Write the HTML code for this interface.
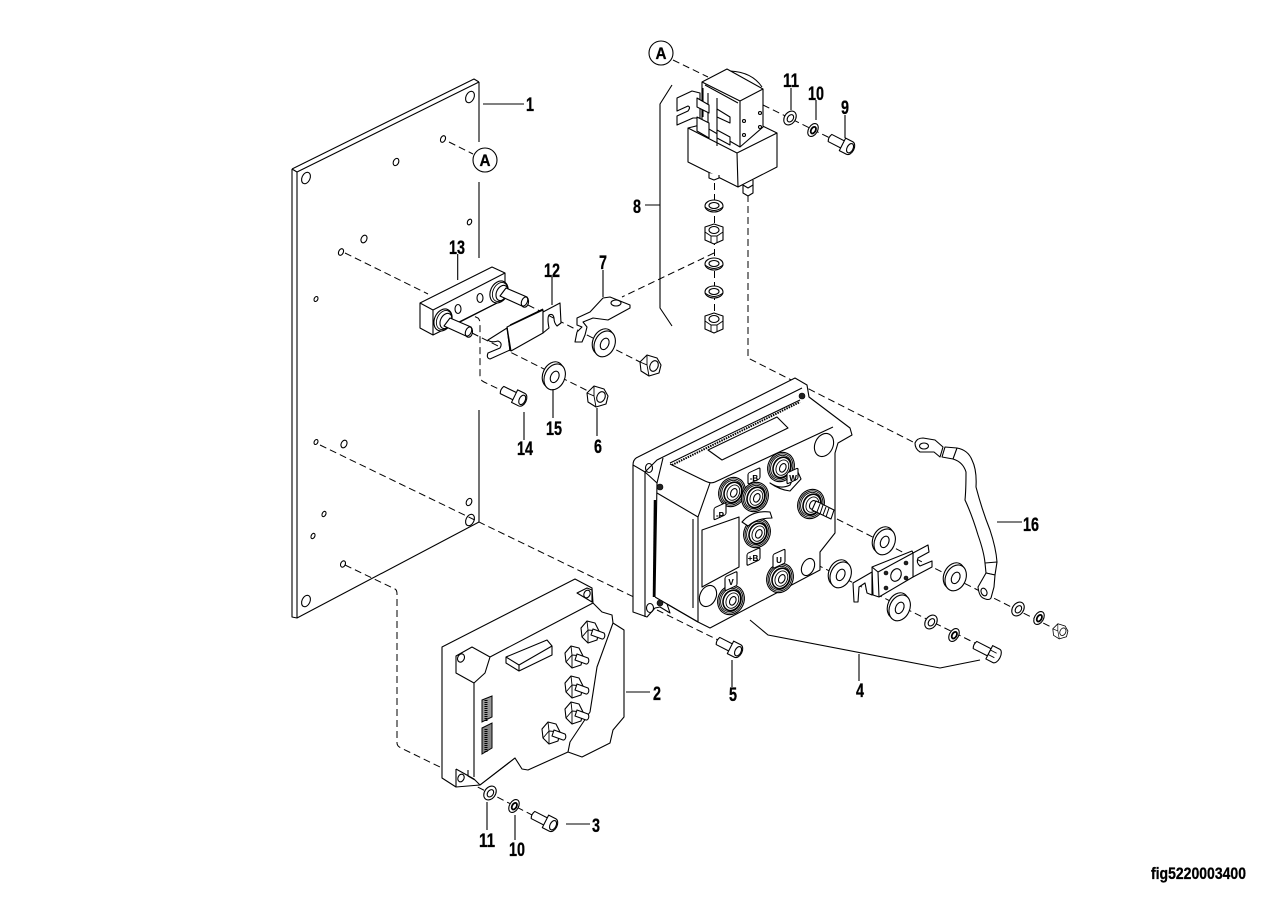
<!DOCTYPE html>
<html><head><meta charset="utf-8"><style>
html,body{margin:0;padding:0;background:#fff}
svg{display:block}
.l{fill:#fff;stroke:#000;stroke-width:1.1;stroke-linejoin:round}
.n{fill:none;stroke:#000;stroke-width:1.1;stroke-linejoin:round}
.t{fill:none;stroke:#000;stroke-width:.9}
.d{fill:none;stroke:#000;stroke-width:1;stroke-dasharray:7 4}
.f{fill:#222;stroke:#000;stroke-width:.6}
text{font-family:"Liberation Sans",sans-serif;font-weight:bold;font-size:19px;fill:#000;stroke:#000;stroke-width:.3;text-anchor:middle}
</style></head><body>
<svg width="1273" height="897" viewBox="0 0 1273 897" xmlns="http://www.w3.org/2000/svg">
<defs>
<g id="bw"><ellipse class="l" cx="-1.5" cy="-.7" rx="10" ry="13.5" transform="rotate(25)"/><ellipse class="l" cx="1" cy=".5" rx="10" ry="13.5" transform="rotate(25)"/><ellipse class="n" cx="1" cy=".5" rx="4" ry="6" transform="rotate(25)"/></g>
<g id="sw"><ellipse class="l" rx="5.5" ry="7.5" transform="rotate(35)"/><ellipse class="n" cx=".5" rx="2.8" ry="4" transform="rotate(35)"/></g>
<g id="lw"><ellipse class="l" rx="4.5" ry="7" transform="rotate(30)" stroke-width="1.4"/><ellipse class="n" cx=".4" rx="2.2" ry="3.6" transform="rotate(30)" style="stroke-width:1.8"/></g>
<g id="nut"><polygon class="l" points="-10,-3 -3,-10 7,-7 11,0 9,8 -1,11 -9,6"/><path class="t" d="M-10,-3 L-3,0 L-1,11 M-3,0 L-3,-10 "/><ellipse class="l" cx="4" cy="1" rx="4" ry="5.5" transform="rotate(25 4 1)"/></g>
<g id="screw"><path class="l" d="M0,-4 L16,-4 L16,4 L0,4 Q-2,0 0,-4Z"/><path class="l" d="M14,-7 L22,-7 A4.5,7 0 0 1 22,7 L14,7 Z"/><ellipse class="n" cx="22.500" cy="0" rx="3" ry="5"/></g>
<g id="hv"><ellipse class="l" rx="13" ry="15" transform="rotate(25)"/><ellipse class="t" rx="11.500" ry="13.500" transform="rotate(25)"/><ellipse class="t" rx="10" ry="12" transform="rotate(25)"/><ellipse class="n" cx="1" rx="8.500" ry="10.500" transform="rotate(25)" style="stroke-width:1.6"/><ellipse class="t" cx="1.500" rx="6" ry="8" transform="rotate(25)"/><ellipse class="n" cx="2" rx="3" ry="4.500" transform="rotate(25)"/></g>
<g id="hxs"><polygon class="l" points="-9,-4 -3,-11 5,-9 9,-1 7,8 -2,11 -8,5"/><path class="t" d="M-3,-11 L-2,-2 L-8,5 M-2,-2 L9,-1 M-2,-2 L-2,11"/><path class="l" d="M3,-3 L14,1 A2.500,3.500 0 0 1 12,7 L1,3 Z"/></g>
<g id="nv"><polygon class="l" points="-9,-7 0,-10 9,-7 9,6 0,10 -9,6"/><path class="t" d="M-9,-2 L-3,2 L3,2 L9,-2 M-3,2 L-3,9 M3,2 L3,9"/><ellipse class="l" cx="0" cy="-4" rx="5" ry="3.500"/></g>
<g id="wv"><ellipse class="l" rx="9" ry="6"/><ellipse class="n" cy="-.5" rx="5" ry="3"/><path class="t" d="M-9,1 Q0,8 9,1"/></g>
</defs>

<!-- dashed lines -->
<path class="d" d="M449,142L473,154"/>
<path class="d" d="M345,253L428,294"/>
<path class="d" d="M320,445L642,601"/>
<path class="d" d="M657,610L718,640"/>
<path class="d" d="M345,565L395,589Q397,590 397,594L397,743Q397,746 401,748L442,768"/>
<path class="d" d="M468,782L534,816"/>
<path class="d" d="M465,312L478,318Q480,320 480,323L480,376Q480,380 484,382L503,391"/>
<path class="d" d="M472,333L590,392"/>
<path class="d" d="M528,305L640,362"/>
<path class="d" d="M714,253L622,297"/>
<path class="d" d="M673,60L708,77"/>
<path class="d" d="M763,105L830,138"/>
<path class="d" d="M714.500,172L714.500,325"/>
<path class="d" d="M748,195L748,358L915,443"/>
<path class="d" d="M837,519L1053,628"/>
<path class="d" d="M767,540L977,644"/>

<!-- plate -->
<path class="n" d="M292,169L474,79L479,82M297,172L479,82M292,169L297,172M292,169V617L297,618M297,172V618L479,522"/>
<path class="n" d="M479,82V142M479,182V258M479,410V522"/>
<g class="n">
<ellipse cx="306" cy="178" rx="4" ry="6" transform="rotate(25 306 178)"/><ellipse cx="470" cy="97" rx="4" ry="6" transform="rotate(25 470 97)"/>
<ellipse cx="306" cy="601" rx="4" ry="6" transform="rotate(25 306 601)"/><ellipse cx="470" cy="520" rx="4" ry="6" transform="rotate(25 470 520)"/>
<ellipse cx="443" cy="139" rx="2.300" ry="3.500" transform="rotate(25 443 139)"/><ellipse cx="396" cy="162" rx="2.600" ry="3.800" transform="rotate(25 396 162)"/>
<ellipse cx="469.500" cy="222" rx="2" ry="3" transform="rotate(25 469.500 222)"/><ellipse cx="364" cy="239" rx="2.800" ry="4" transform="rotate(25 364 239)"/>
<ellipse cx="341" cy="252" rx="2.300" ry="3.500" transform="rotate(25 341 252)"/><ellipse cx="316" cy="299" rx="1.800" ry="2.600" transform="rotate(25 316 299)"/>
<ellipse cx="316" cy="442" rx="1.800" ry="2.600" transform="rotate(25 316 442)"/><ellipse cx="344" cy="444" rx="2.800" ry="4" transform="rotate(25 344 444)"/>
<ellipse cx="469" cy="502" rx="2.600" ry="3.800" transform="rotate(25 469 502)"/><ellipse cx="324" cy="514" rx="1.800" ry="2.800" transform="rotate(25 324 514)"/>
<ellipse cx="313" cy="536" rx="1.800" ry="2.800" transform="rotate(25 313 536)"/><ellipse cx="343" cy="564" rx="2.300" ry="3.300" transform="rotate(25 343 564)"/>
</g>

<!-- A callouts -->
<circle class="l" cx="485" cy="160" r="12"/><text x="485" y="166" style="font-size:17px" textLength="11" lengthAdjust="spacingAndGlyphs">A</text>
<circle class="l" cx="661" cy="53" r="12"/><text x="661" y="59" style="font-size:17px" textLength="11" lengthAdjust="spacingAndGlyphs">A</text>

<!-- part 13 -->
<path class="l" d="M420,303L492,267L505,273V285L497,303L433,335L420,328Z"/>
<path class="n" d="M420,303L433,310V335M433,310L505,273"/>
<ellipse class="n" cx="458" cy="309" rx="3" ry="4.500"/><ellipse class="n" cx="480" cy="298" rx="3" ry="4.500"/>
<ellipse class="l" cx="443" cy="320" rx="8.500" ry="11.500" transform="rotate(25 443 320)"/><ellipse class="t" cx="444" cy="320" rx="7" ry="10" transform="rotate(25 444 320)"/><ellipse class="n" cx="446" cy="321" rx="5.500" ry="8" transform="rotate(25 446 321)"/>
<ellipse class="l" cx="499" cy="292" rx="8.500" ry="11.500" transform="rotate(25 499 292)"/><ellipse class="t" cx="500" cy="292" rx="7" ry="10" transform="rotate(25 500 292)"/><ellipse class="n" cx="502" cy="293" rx="5.500" ry="8" transform="rotate(25 502 293)"/>
<path class="l" d="M450,318L471,327A3.500,5 0 0 1 466,336L444,326Z"/><ellipse class="n" cx="468.500" cy="331.500" rx="2.800" ry="4.800" transform="rotate(25 468.500 331.500)"/>
<path class="l" d="M506,288L527,297A3.500,5 0 0 1 522,306L500,296Z"/><ellipse class="n" cx="524.500" cy="301.500" rx="2.800" ry="4.800" transform="rotate(25 524.500 301.500)"/>
<path class="n" d="M460,322L497,303"/>

<!-- part 12 fuse -->
<path class="l" d="M488,340L507,328L510,350L490,359Q486,358 488,353L500,348Q503,343 498,341Q491,343 488,340Z"/>
<path class="l" d="M507,327L543,310V333L511,351Z"/>
<path class="n" d="M507,327L510,351M510,325L543,309"/>
<path class="l" d="M543,312L560,303L561,323L557,326Q554,323 554,318Q553,313 549,315Q547,318 549,328L543,333Z"/>

<!-- part 7 -->
<path class="l" d="M577,318L590,312L603,298L610,297L630,305V308L608,320L593,318L583,322L587,327L585,335L582,342L575,342L577,332L582,327L577,325Z"/>
<ellipse class="n" cx="616" cy="303" rx="5" ry="3"/>

<use href="#bw" x="554" y="376"/>
<use href="#bw" x="604" y="343"/>
<use href="#nut" x="597" y="396"/>
<use href="#nut" x="650" y="365"/>
<use href="#screw" transform="translate(502,390) rotate(26)"/>

<!-- relay 8 -->
<path class="n" d="M730,71Q752,72 762,87"/>
<path class="l" d="M688,128L688,162L738,187L777,167V133L740,115Z"/>
<path class="n" d="M688,128L737,153L777,133M737,153L738,187"/>
<path class="l" d="M702,82L727,69L763,89V127L740,147L702,125Z"/>
<path class="n" d="M702,82L740,101L763,89M740,101V147M705,85L738,103"/>
<path class="l" d="M677,98L692,91L700,93V118L693,118L677,125V116L688,111Q691,107 688,106L677,111V103Z"/>
<path class="n" d="M703,88V117M708,93V137M717,98V146"/>
<path class="l" d="M697,98L709,105V113L697,107Z"/><path class="l" d="M697,117L709,123V138L697,131Z"/>
<path class="l" d="M717,109L730,117V123L717,117Z"/><path class="l" d="M717,130L730,137V145L717,138Z"/>
<circle cx="744" cy="121" r="1.500" class="n"/><circle cx="760" cy="113" r="1.500" class="n"/><circle cx="744" cy="135" r="1.500" class="n"/><circle cx="760" cy="127" r="1.500" class="n"/>
<path class="l" d="M709,173V178L714,180L719,178V175"/>
<path class="l" d="M743,185V193L748,196L753,193V180"/><path class="n" d="M743,185L748,188L753,185"/>
<use href="#wv" x="714" y="206"/><use href="#nv" x="714" y="234"/><use href="#wv" x="714" y="264"/><use href="#wv" x="714" y="292"/><use href="#nv" x="714" y="323"/>
<use href="#sw" x="790" y="118"/><use href="#lw" x="813" y="130"/>
<use href="#screw" transform="translate(830,138) rotate(27)"/>

<!-- controller 4 -->
<path class="l" d="M633,465Q633,459 638,457L795,378L807,385L809,397L850,428L852,435L838,443L835,453V533L820,552V570L710,628L698,622L667,604L670,613L660,607L655,608L647,617L633,612Z"/>
<path class="n" d="M645,472V617M633,465L645,472L657,460L802,388M670,463L800,400M645,472L657,483L655,597"/>
<path class="n" d="M663,458L657,483M670,464L705,481Q711,484 715,482L833,427"/>
<path d="M672,465L800,402" fill="none" stroke="#000" stroke-width="2" stroke-dasharray="1.500 1"/>
<path class="n" d="M710,483L698,517L657,493M698,517V622M693,519V608M655,597L698,622"/>
<path d="M655,500L654,597" stroke="#000" stroke-width="2.500" fill="none"/>
<path class="n" d="M708,450L777,417L788,428L722,460Z"/>
<path class="n" d="M702,530L739,517V567L702,587Z"/>
<ellipse class="n" cx="824" cy="445" rx="9" ry="12" transform="rotate(25 824 445)"/>
<ellipse class="n" cx="649" cy="468" rx="3.500" ry="4.500"/><ellipse class="n" cx="650" cy="608" rx="3.500" ry="4.500"/>
<circle class="f" cx="660" cy="487" r="3"/><circle class="f" cx="660" cy="603" r="3"/><circle class="f" cx="802" cy="396" r="3"/>
<ellipse class="n" cx="808" cy="567" rx="6" ry="9" transform="rotate(25 808 567)"/>
<ellipse class="n" cx="708" cy="596" rx="8" ry="11" transform="rotate(25 708 596)"/>
<use href="#hv" x="732" y="492"/><use href="#hv" x="781" y="467"/><use href="#hv" x="755" y="497"/><use href="#hv" x="757" y="533"/><use href="#hv" x="780" y="578"/><use href="#hv" x="731" y="600"/>
<use href="#hv" x="811" y="504"/>
<path class="l" d="M816,501L834,510L831,519L812,510Z"/>
<path d="M820,504L817,512M823,505L820,514M826,507L823,515M829,508L826,517" stroke="#000" fill="none"/>
<path class="l" d="M742,522Q752,510 770,512L772,518Q757,518 748,526Z"/>
<path class="l" d="M770,483Q780,490 790,485L797,470L801,479L790,491Q780,490 770,483Z"/>
<g class="l"><rect x="714" y="508" width="12" height="12" rx="1.500" transform="skewY(-25) translate(0,333)"/><rect x="748" y="472" width="12" height="11" rx="1.500" transform="skewY(-25) translate(0,350)"/><rect x="787" y="472" width="11" height="11" rx="1.500" transform="skewY(-25) translate(0,368)"/><rect x="747" y="552" width="13" height="12" rx="1.500" transform="skewY(-25) translate(0,350)"/><rect x="773" y="553" width="12" height="14" rx="1.500" transform="skewY(-25) translate(0,362)"/><rect x="725" y="575" width="12" height="14" rx="1.500" transform="skewY(-25) translate(0,340)"/></g>
<g><text x="720" y="518" style="font-size:8px;stroke-width:.1">-P</text><text x="754" y="481" style="font-size:8px;stroke-width:.1">-B</text><text x="793" y="481" style="font-size:8px;stroke-width:.1">W</text><text x="753" y="561" style="font-size:8px;stroke-width:.1">+B</text><text x="779" y="563" style="font-size:8px;stroke-width:.1">U</text><text x="731" y="585" style="font-size:8px;stroke-width:.1">V</text></g>

<use href="#bw" x="884" y="541"/><use href="#bw" x="840" y="574"/><use href="#bw" x="955" y="577"/><use href="#bw" x="899" y="607"/>
<!-- bracket -->
<path class="l" d="M913,553L928,545L929,552L918,558Q916,563 920,566L932,561L932,567L913,577Z"/>
<path class="l" d="M872,572L853,583L854,602L858,602L859,587L865,583L867,593L872,595Z"/>
<path class="l" d="M872,567L912,551L913,553V577L879,597L873,595Z"/>
<path class="n" d="M872,567L878,572L913,553M878,572L879,597"/>
<ellipse class="n" cx="896" cy="575" rx="5" ry="6.500" transform="rotate(25 896 575)"/>
<circle class="f" cx="886" cy="573" r="2"/><circle class="f" cx="906" cy="563" r="2"/><circle class="f" cx="886" cy="588" r="2"/><circle class="f" cx="906" cy="578" r="2"/>
<use href="#sw" x="931" y="622"/><use href="#lw" x="954" y="635"/>
<use href="#sw" x="1018" y="609"/><use href="#lw" x="1039" y="618"/>
<use href="#nut" transform="translate(1060,631) scale(.72)"/>
<g transform="translate(975,645) rotate(27)"><path class="l" d="M0,-4L16,-4L16,4L0,4Q-2,0 0,-4Z"/><path class="l" d="M16,-7.500L24,-7.500A4,7.500 0 0 1 24,7.500L16,7.500Z"/><path class="t" d="M16,-2.500L23,-2.500M16,2.500L23,2.500"/></g>

<!-- cable 16 -->
<path class="n" d="M957,448Q968,450 972,460Q977,470 976,487Q982,510 990,530Q996,548 997,562"/>
<path class="n" d="M953,459Q963,462 966,472Q966,490 965,500Q972,515 978,535Q984,552 985,563"/>
<path class="l" d="M915,443Q917,438 923,438L935,440L943,447L940,457L934,452L920,452Q915,449 915,443Z"/>
<ellipse class="n" cx="924" cy="446" rx="4.500" ry="3"/>
<path class="l" d="M942,457L945,447L957,448L953,459Z"/>
<path class="l" d="M985,563L997,562L995,575L986,573Z"/>
<path class="l" d="M986,573L978,587Q979,596 983,598Q989,601 991,598L994,587L995,575Z"/>
<ellipse class="n" cx="984" cy="592" rx="2.800" ry="4" transform="rotate(-25 984 592)"/>

<!-- controller 2 -->
<path class="l" d="M442,647L575,579L592,588L593,603L602,612L612,615L613,623L624,630V717L613,730L610,743L582,757L568,752L528,770L522,769L515,758L480,785L456,787L442,778Z"/>
<path class="n" d="M613,623L597,667L593,693L590,712L570,742L568,752"/>
<path class="n" d="M474,683V777M490,657L593,603M456,656L472,647L490,657L485,673L474,683L456,673ZM456,656V673"/>
<path class="n" d="M577,593L587,588L592,590L592,602L577,593Z"/>
<path class="n" d="M456,769L474,779L480,785M456,769L456,787M468,770L468,776L475,780M480,785L515,758"/>
<ellipse class="n" cx="461" cy="658" rx="3.300" ry="4.300" transform="rotate(25 461 658)"/>
<ellipse class="n" cx="461" cy="778" rx="3" ry="4" transform="rotate(25 461 778)"/>
<ellipse class="n" cx="587" cy="594" rx="3" ry="4" transform="rotate(25 587 594)"/>
<path class="l" d="M506,657L547,640L552,646V655L519,671L506,663Z"/><path class="n" d="M506,657L519,665L552,646M519,665V671"/>
<path d="M482,700L492,696V717L482,722Z" fill="#999" stroke="#000"/><path d="M482,728L492,723V748L482,754Z" fill="#888" stroke="#000"/>
<path d="M486,700V721M486,729V752" stroke="#000" stroke-width="3" stroke-dasharray="1 1" fill="none"/>
<use href="#hxs" x="590" y="632"/><use href="#hxs" x="574" y="657"/><use href="#hxs" x="574" y="687"/><use href="#hxs" x="574" y="713"/><use href="#hxs" x="551" y="733"/>

<use href="#sw" x="490" y="793"/><use href="#lw" x="514" y="806"/>
<use href="#screw" transform="translate(533,815) rotate(27)"/>
<use href="#screw" transform="translate(718,641) rotate(27)"/>

<!-- leaders -->
<path class="n" d="M483,104H524M672,85L660,104V308L672,326M645,205H660M457.700,254V280M552,277V305M603,270V297M524,412V440M553,389V418M597,408V436M997,522H1022M626,692H650M732,660V687M750,620L768,635L940,668L980,660M859,654V681M566,824H590M487,802V830M515,815V840M791,88V110M816,100V120M845,115V138"/>

<!-- labels -->
<g>
<text x="530" y="111" textLength="8" lengthAdjust="spacingAndGlyphs">1</text>
<text x="457" y="254" textLength="16" lengthAdjust="spacingAndGlyphs">13</text>
<text x="552" y="277" textLength="16" lengthAdjust="spacingAndGlyphs">12</text>
<text x="603" y="269" textLength="8" lengthAdjust="spacingAndGlyphs">7</text>
<text x="637" y="213" textLength="8" lengthAdjust="spacingAndGlyphs">8</text>
<text x="791" y="87" textLength="16" lengthAdjust="spacingAndGlyphs">11</text>
<text x="816" y="100" textLength="16" lengthAdjust="spacingAndGlyphs">10</text>
<text x="845" y="114" textLength="8" lengthAdjust="spacingAndGlyphs">9</text>
<text x="525" y="455" textLength="16" lengthAdjust="spacingAndGlyphs">14</text>
<text x="554" y="435" textLength="16" lengthAdjust="spacingAndGlyphs">15</text>
<text x="598" y="453" textLength="8" lengthAdjust="spacingAndGlyphs">6</text>
<text x="1031" y="531" textLength="16" lengthAdjust="spacingAndGlyphs">16</text>
<text x="657" y="700" textLength="8" lengthAdjust="spacingAndGlyphs">2</text>
<text x="733" y="701" textLength="8" lengthAdjust="spacingAndGlyphs">5</text>
<text x="860" y="697" textLength="8" lengthAdjust="spacingAndGlyphs">4</text>
<text x="596" y="832" textLength="8" lengthAdjust="spacingAndGlyphs">3</text>
<text x="487" y="847" textLength="16" lengthAdjust="spacingAndGlyphs">11</text>
<text x="517" y="856" textLength="16" lengthAdjust="spacingAndGlyphs">10</text>
<text x="1198.500" y="879" style="font-size:17px" textLength="95" lengthAdjust="spacingAndGlyphs">fig5220003400</text>
</g>
</svg>
</body></html>
